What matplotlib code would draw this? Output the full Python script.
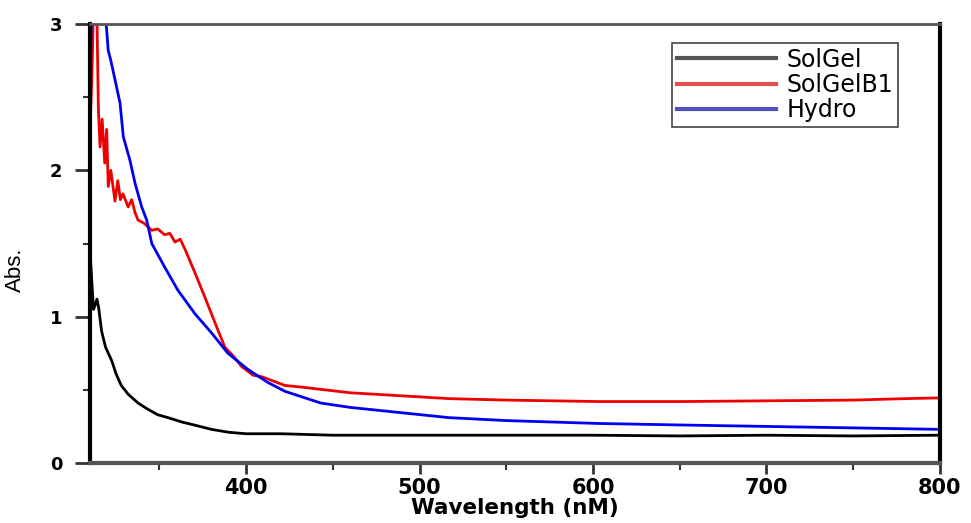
import matplotlib.pyplot as plt
from matplotlib.ticker import MultipleLocator

plt.rcParams['font.family'] = ['DejaVu Sans']

# SolGel (black)
solgel_nm = [310, 311, 312, 313, 314, 315, 316.7, 319, 322.5, 325, 328, 332, 337.7, 343,
             349, 355, 363, 370, 380, 390, 400, 420, 450, 500, 550, 600, 650, 700, 750, 800]
solgel_abs = [1.45, 1.25, 1.05, 1.08, 1.12, 1.06, 0.90, 0.79, 0.70, 0.61, 0.53, 0.47, 0.41, 0.37,
              0.33, 0.31, 0.28, 0.26, 0.23, 0.21, 0.20, 0.20, 0.19, 0.19, 0.19, 0.19, 0.185, 0.19, 0.185, 0.19]

# SolGelB1 (red)
b1_nm = [310, 311, 312, 313, 314, 314.8, 315.8, 317, 318.5, 319.6, 320.5, 322, 324.4, 326,
         327.5, 329, 332, 334, 336, 337.7, 341, 345.6, 349, 353, 356, 359, 362, 364.8, 370.5,
         376, 382, 387.8, 392.7, 397.4, 404, 409, 422.4, 431, 460, 517, 550, 604, 650, 700,
         750, 780, 800]
b1_abs = [2.30, 2.60, 3.10, 3.30, 3.05, 2.43, 2.16, 2.35, 2.05, 2.28, 1.89, 2.00, 1.79, 1.93,
          1.80, 1.84, 1.75, 1.80, 1.71, 1.66, 1.64, 1.59, 1.60, 1.56, 1.57, 1.51, 1.53, 1.46, 1.30,
          1.14, 0.96, 0.79, 0.73, 0.66, 0.60, 0.59, 0.53, 0.52, 0.48, 0.44, 0.43, 0.42, 0.42, 0.425,
          0.43, 0.44, 0.445]

# Hydro (blue)
hydro_nm = [310, 311, 313, 315, 317, 319, 320.5, 322, 324.4, 327.3, 329.2, 333, 336, 339.8,
            342.7, 345.6, 353, 360.7, 370.5, 380, 389.5, 401, 412.6, 422.4, 443, 460, 517,
            550, 604, 650, 700, 750, 800]
hydro_abs = [2.60, 3.20, 3.40, 3.30, 3.20, 3.05, 2.82, 2.75, 2.62, 2.46, 2.23, 2.07, 1.91, 1.75,
             1.66, 1.50, 1.34, 1.18, 1.02, 0.89, 0.75, 0.64, 0.55, 0.49, 0.41, 0.38, 0.31,
             0.29, 0.27, 0.26, 0.25, 0.24, 0.23]

x_ticks = [400, 500, 600, 700, 800]

fig = plt.figure(figsize=(9.71, 5.23), dpi=100)
ax = fig.add_axes([0.0927, 0.1147, 0.8753, 0.8393])

ax.plot(solgel_nm, solgel_abs, color='black', lw=2, label='SolGel')
ax.plot(b1_nm, b1_abs, color='#ee0000', lw=2, label='SolGelB1')
ax.plot(hydro_nm, hydro_abs, color='#0000f5', lw=2, label='Hydro')

ax.set_xlim(310, 800)
ax.set_ylim(0, 3)
ax.set_xticks(x_ticks)
ax.xaxis.set_minor_locator(MultipleLocator(50))
ax.yaxis.set_major_locator(MultipleLocator(1))
ax.yaxis.set_minor_locator(MultipleLocator(0.5))

ax.tick_params(which='major', direction='out', width=2, color='#333333')
ax.tick_params(which='minor', direction='out', width=1.5, color='#333333')
ax.tick_params(axis='x', which='major', length=8, labelsize=15, pad=3)
ax.tick_params(axis='x', which='minor', length=5)
ax.tick_params(axis='y', which='major', length=11, labelsize=13, pad=9)
ax.tick_params(axis='y', which='minor', length=5)
for lab in ax.get_xticklabels() + ax.get_yticklabels():
    lab.set_fontweight('bold')

ax.spines['left'].set_linewidth(3)
ax.spines['left'].set_color('black')
ax.spines['right'].set_linewidth(3)
ax.spines['right'].set_color('black')
ax.spines['bottom'].set_linewidth(3)
ax.spines['bottom'].set_color('#555555')
ax.spines['top'].set_linewidth(2)
ax.spines['top'].set_color('#555555')

ax.set_xlabel('Wavelength (nM)', fontsize=15.5, fontweight='bold', labelpad=0)
ax.set_ylabel('Abs.', fontsize=16, family='Liberation Sans')
ax.yaxis.set_label_coords(-0.075, 0.44)

leg = ax.legend(loc='upper right', bbox_to_anchor=(0.951, 0.957), borderaxespad=0,
                fontsize=17, handlelength=4.2, handletextpad=0.45, labelspacing=0.05,
                borderpad=0.2, fancybox=False, framealpha=1)
leg.get_frame().set_edgecolor('#444444')
leg.get_frame().set_linewidth(1.2)
leg_colors = ['#555555', '#e05050', '#5050c0']
for line, c in zip(leg.get_lines(), leg_colors):
    line.set_color(c)
    line.set_linewidth(3)

fig.savefig('out.png', dpi=100)
